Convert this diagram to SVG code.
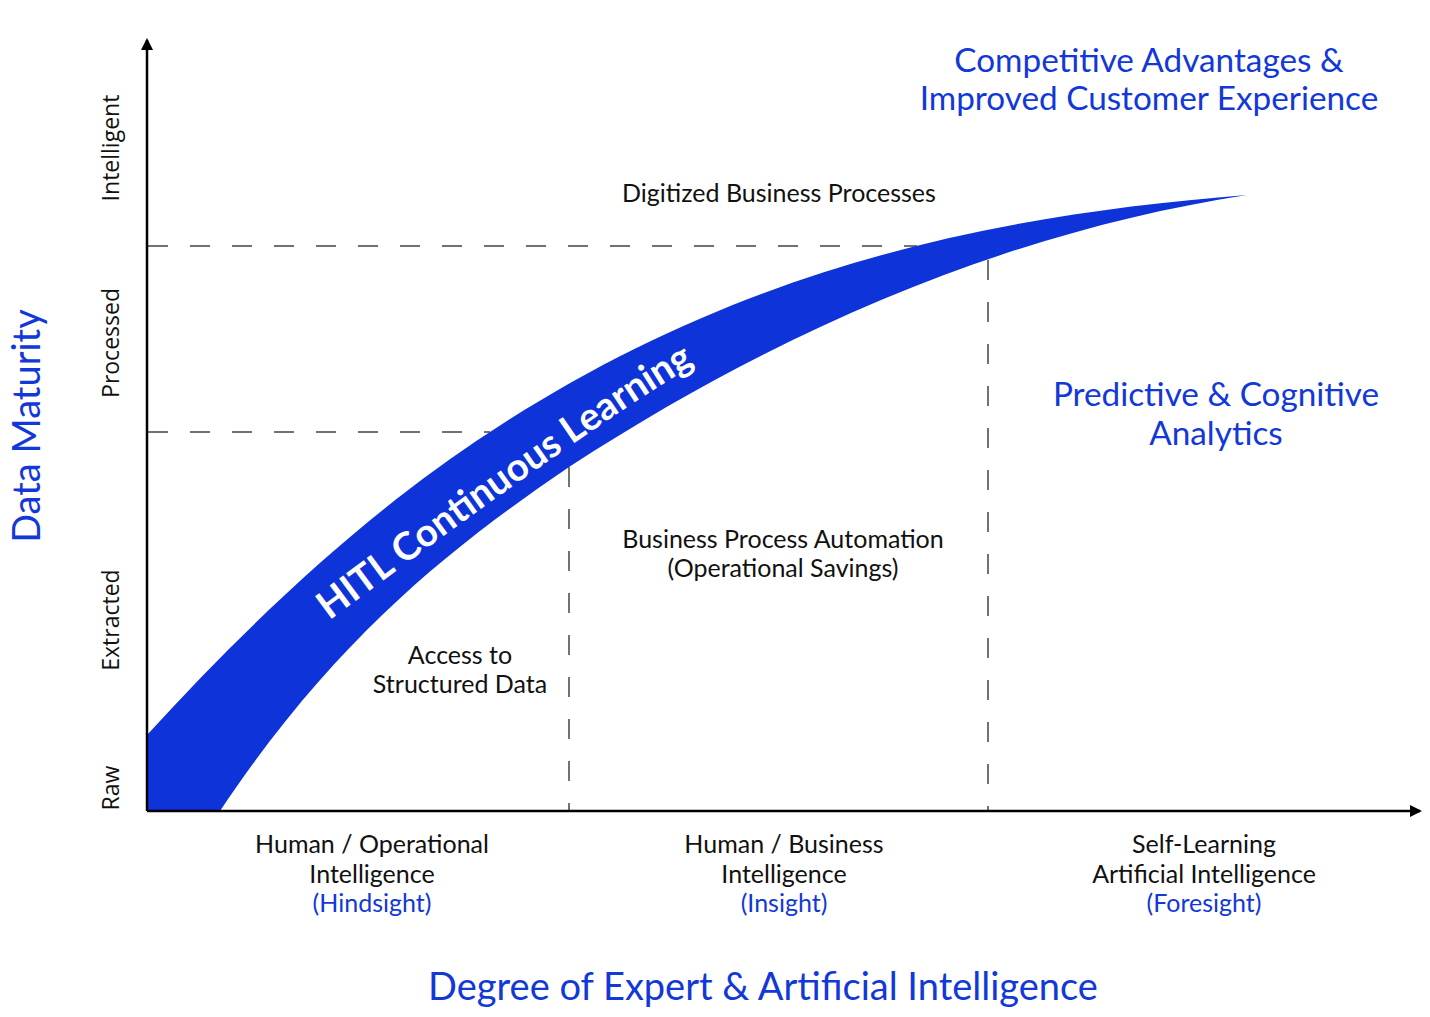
<svg xmlns="http://www.w3.org/2000/svg" width="1430" height="1017" viewBox="0 0 1430 1017">
<style>
.t{font-family:Lato,"Open Sans","Liberation Sans",sans-serif;font-size:25px;fill:#111;text-anchor:middle}
.b{fill:#1238d8}
.big{font-size:33.3px}
.huge{font-size:38px}
.ax{font-family:"Open Sans",Lato,"Liberation Sans",sans-serif;font-size:23px;fill:#111;text-anchor:middle}
.dash{stroke:#444;stroke-width:1.5;stroke-dasharray:20 22;fill:none}
</style>
<defs>
<marker id="arr" viewBox="0 0 12 12" refX="10" refY="6" markerWidth="12" markerHeight="12" markerUnits="userSpaceOnUse" orient="auto">
<path d="M0,0 L12,6 L0,12 Z" fill="#000"/>
</marker>
<path id="tp" d="M310,635 Q607,412 720,350"/>
</defs>
<rect width="1430" height="1017" fill="#fff"/>
<g id="guides">
<path class="dash" d="M148,432 H490"/>
<path class="dash" d="M148,246 H917"/>
<path class="dash" d="M569,467 V811"/>
<path class="dash" d="M988,260 V811"/>
</g>
<g id="band">
<path d="M147,735 C261,610 376,506 490,432 C742,266 995,215 1247,195 C1021,230 795,320 569,467 C453,546 336,637 220,811 L147,811 Z" fill="#0d33d9"/>
<text font-family="Lato,'Open Sans',sans-serif" font-size="38.5" font-weight="bold" fill="#fff"><textPath href="#tp" startOffset="24">HITL Continuous Learning</textPath></text>
</g>
<g id="axes">
<path d="M147,811 V40" stroke="#000" stroke-width="2.5" marker-end="url(#arr)"/>
<path d="M147,811 H1420" stroke="#000" stroke-width="2.5" marker-end="url(#arr)"/>
</g>
<g id="ylabels">
<text class="ax" transform="translate(119,148) rotate(-90)">Intelligent</text>
<text class="ax" transform="translate(119,343) rotate(-90)">Processed</text>
<text class="ax" transform="translate(119,620) rotate(-90)">Extracted</text>
<text class="ax" transform="translate(119,788) rotate(-90)">Raw</text>
<text class="t b huge" transform="translate(40,426) rotate(-90)">Data Maturity</text>
</g>
<g id="regions">
<text class="t b big" x="1149" y="72">Competitive Advantages &amp;</text>
<text class="t b big" x="1149" y="110">Improved Customer Experience</text>
<text class="t" x="779" y="202">Digitized Business Processes</text>
<text class="t b big" x="1216" y="406">Predictive &amp; Cognitive</text>
<text class="t b big" x="1216" y="445">Analytics</text>
<text class="t" x="783" y="548">Business Process Automation</text>
<text class="t" x="783" y="577">(Operational Savings)</text>
<text class="t" x="460" y="664">Access to</text>
<text class="t" x="460" y="693">Structured Data</text>
</g>
<g id="xlabels">
<text class="t" x="372" y="853">Human / Operational</text>
<text class="t" x="372" y="883">Intelligence</text>
<text class="t b" x="372" y="912">(Hindsight)</text>
<text class="t" x="784" y="853">Human / Business</text>
<text class="t" x="784" y="883">Intelligence</text>
<text class="t b" x="784" y="912">(Insight)</text>
<text class="t" x="1204" y="853">Self-Learning</text>
<text class="t" x="1204" y="883">Artificial Intelligence</text>
<text class="t b" x="1204" y="912">(Foresight)</text>
<text class="t b huge" x="763" y="1000">Degree of Expert &amp; Artificial Intelligence</text>
</g>
</svg>
